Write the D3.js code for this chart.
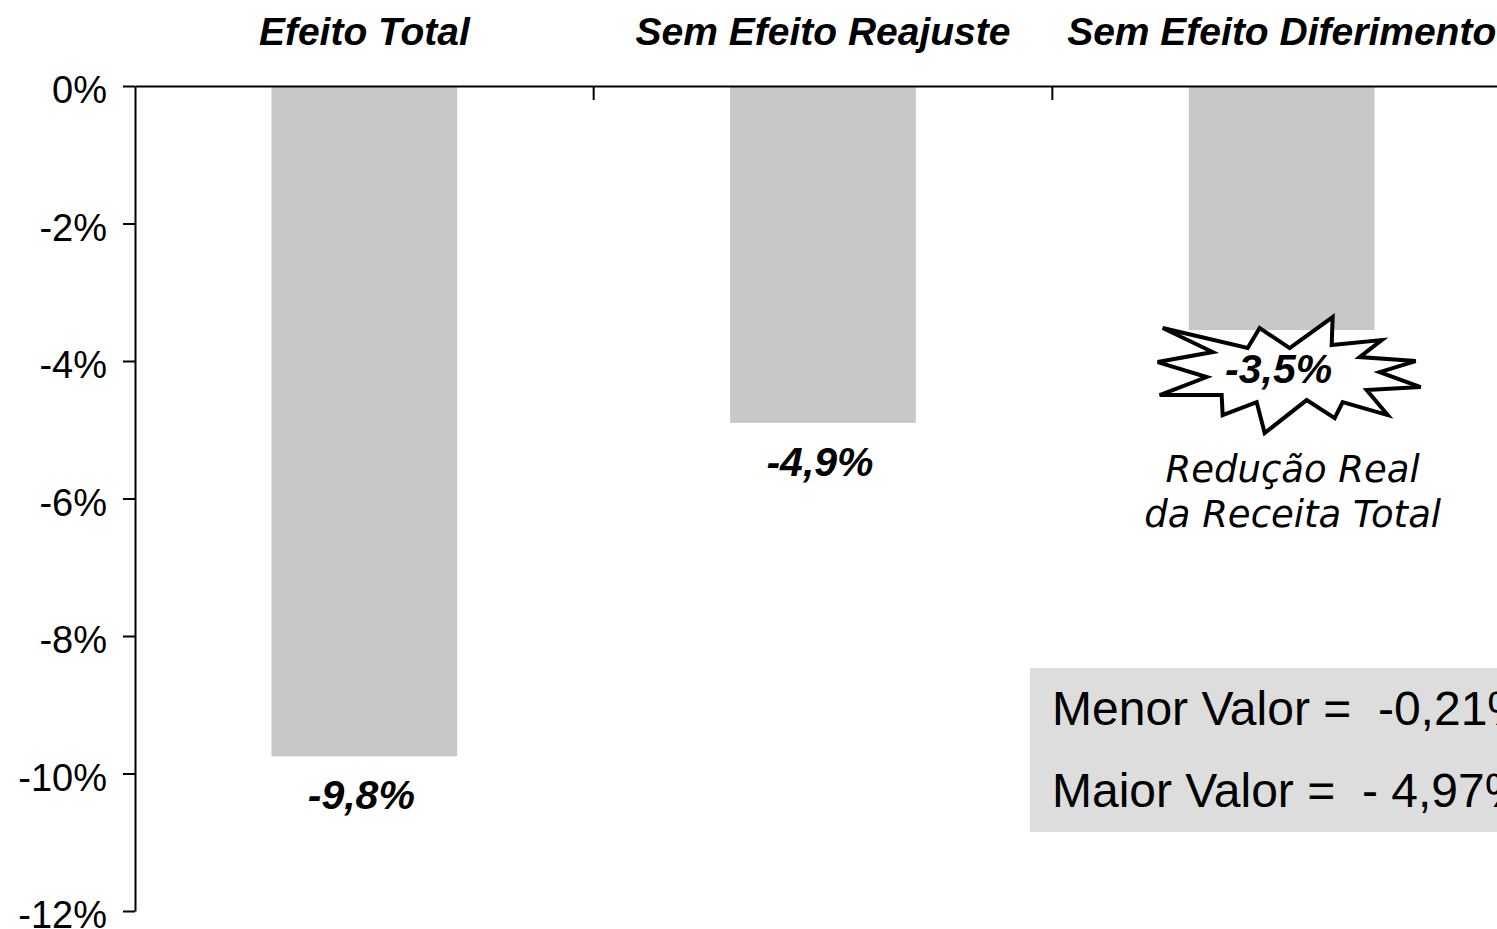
<!DOCTYPE html>
<html>
<head>
<meta charset="utf-8">
<script src="https://cdn.jsdelivr.net/npm/d3@7"></script>
<style>
  body { margin: 0; background: #fff; }
  svg { display: block; }
  text { font-family: "Liberation Sans", Arial, sans-serif; }
</style>
</head>
<body>
<div id="chart"></div>
<script>
// data
const categories = ["Efeito Total", "Sem Efeito Reajuste", "Sem Efeito Diferimento"];
const values = [-9.75, -4.9, -3.55];
const valueLabels = ["-9,8%", "-4,9%", "-3,5%"];
const yTicks = [0, -2, -4, -6, -8, -10, -12];
const noteLines = ["Redução Real", "da Receita Total"];
const boxLines = ["Menor Valor =  -0,21%", "Maior Valor =  - 4,97%"];

const W = 1497, H = 929;

const svg = d3.select("#chart").append("svg")
  .attr("width", W)
  .attr("height", H);

// scales
const x = d3.scaleBand()
  .domain(categories)
  .range([135, 1511])
  .padding(0);

const y = d3.scaleLinear()
  .domain([0, -12])
  .range([86, 911]);

const barW = x.bandwidth() * 0.405;
const cx = d => x(d) + x.bandwidth() / 2;

// bars
svg.selectAll("rect.bar")
  .data(categories)
  .join("rect")
  .attr("class", "bar")
  .attr("x", d => cx(d) - barW / 2)
  .attr("y", y(0))
  .attr("width", barW)
  .attr("height", (d, i) => y(values[i]) - y(0))
  .attr("fill", "#c8c8c8");

// left axis
const yAxis = svg.append("g")
  .attr("transform", "translate(135,0)")
  .call(d3.axisLeft(y)
    .tickValues(yTicks)
    .tickSize(12)
    .tickSizeOuter(0)
    .tickPadding(16)
    .tickFormat(d => d + "%"));
yAxis.select(".domain").attr("stroke", "#000").attr("stroke-width", 2);
yAxis.selectAll(".tick line").attr("stroke", "#000").attr("stroke-width", 2);
yAxis.selectAll(".tick text")
  .attr("dy", "0.44em")
  .attr("fill", "#000")
  .style("font-family", "'Liberation Sans', Arial, sans-serif")
  .style("font-size", "38px");

// top category axis (zero line)
const xAxis = svg.append("g")
  .attr("transform", `translate(0,${y(0)})`)
  .call(d3.axisTop(x)
    .tickSize(0)
    .tickSizeOuter(0)
    .tickPadding(41));
xAxis.select(".domain").attr("stroke", "#000").attr("stroke-width", 2);
xAxis.selectAll(".tick text")
  .attr("fill", "#000")
  .style("font-family", "'Liberation Sans', Arial, sans-serif")
  .style("font-size", "39px")
  .style("font-weight", "bold")
  .style("font-style", "italic");

// boundary ticks between categories
svg.selectAll("line.sep")
  .data(categories.slice(1))
  .join("line")
  .attr("class", "sep")
  .attr("x1", d => x(d))
  .attr("x2", d => x(d))
  .attr("y1", y(0))
  .attr("y2", y(0) + 14)
  .attr("stroke", "#000")
  .attr("stroke-width", 2);

// starburst behind the last label
const burst = [[-126,-47],[-41,-27],[-29,-47],[1,-27],[44,-58],[43,-30],[93,-35],[71,-18],
  [127,-14],[91,-3],[132,12],[78,15],[99,40],[54,27],[46,43],[18,25],[-24,58],[-32,27],
  [-66,40],[-67,20],[-129,20],[-82,2],[-131,-13],[-76,-23]];
const last = categories.length - 1;
svg.append("polygon")
  .attr("points", burst.map(p => [cx(categories[last]) + 7 + p[0], y(values[last]) + 45 + p[1]].join(",")).join(" "))
  .attr("fill", "#fff")
  .attr("stroke", "#000")
  .attr("stroke-width", 4)
  .attr("stroke-linejoin", "miter");

// value labels under bars
svg.selectAll("text.val")
  .data(categories)
  .join("text")
  .attr("class", "val")
  .attr("x", d => cx(d) - 3)
  .attr("y", (d, i) => y(values[i]) + 53)
  .attr("text-anchor", "middle")
  .style("font-size", "41px")
  .style("font-weight", "bold")
  .style("font-style", "italic")
  .text((d, i) => valueLabels[i]);

// note under the starburst
svg.selectAll("text.note")
  .data(noteLines)
  .join("text")
  .attr("class", "note")
  .attr("x", cx(categories[last]) + 11)
  .attr("y", (d, i) => 482 + i * 45)
  .attr("text-anchor", "middle")
  .style("font-family", "'DejaVu Sans', Verdana, sans-serif")
  .style("font-style", "italic")
  .style("font-size", "37px")
  .text(d => d);

// grey info box
svg.append("rect")
  .attr("x", 1030)
  .attr("y", 668)
  .attr("width", 500)
  .attr("height", 164)
  .attr("fill", "#dddddd");

svg.selectAll("text.box")
  .data(boxLines)
  .join("text")
  .attr("class", "box")
  .attr("x", 1052)
  .attr("y", (d, i) => 725 + i * 82)
  .attr("xml:space", "preserve")
  .style("white-space", "pre")
  .style("font-size", "48px")
  .text(d => d);
</script>
</body>
</html>
